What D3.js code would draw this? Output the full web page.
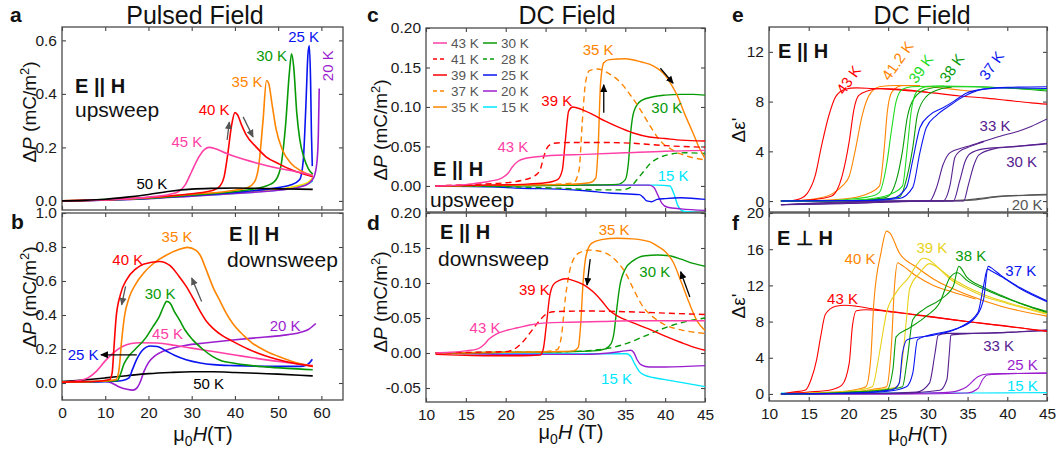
<!DOCTYPE html>
<html lang="en">
<head>
<meta charset="utf-8">
<script src="https://cdn.jsdelivr.net/npm/d3@7"></script>
<style>
body { margin: 0; background: #fff; }
svg { font-family: "Liberation Sans", Arial, sans-serif; }
</style>
</head>
<body>
<script>
// ---------- a: pulsed field, upsweep  [mu0H (T), dP (mC/m2)]
var a50 = [[0,0],[5,0.002],[10,0.006],[15,0.014],[20,0.024],[25,0.036],[30,0.044],[35,0.047],[40,0.048],[45,0.047],[50,0.045],[55,0.044],[58,0.043]];
var a45 = [[0,0],[10,0.004],[20,0.014],[25,0.025],[27,0.035],[28.5,0.06],[30,0.11],[31.5,0.16],[33,0.193],[34,0.2],[35.5,0.195],[38,0.178],[40,0.166],[45,0.142],[50,0.122],[55,0.107],[58,0.095]];
var a40 = [[0,0],[10,0.004],[20,0.013],[30,0.027],[35,0.04],[36.5,0.055],[37.5,0.09],[38.3,0.17],[39.2,0.28],[40,0.33],[40.6,0.322],[41.5,0.285],[42.5,0.25],[45,0.2],[47.2,0.165],[50,0.14],[52.5,0.12],[55,0.105],[58,0.09]];
var a35 = [[0,0],[20,0.012],[30,0.025],[40,0.04],[43,0.05],[44.5,0.07],[45.5,0.13],[46.5,0.3],[47.3,0.45],[47.8,0.44],[48.6,0.36],[49.5,0.27],[51,0.19],[53,0.14],[55,0.115],[58,0.095]];
var a30 = [[0,0],[20,0.01],[30,0.022],[40,0.035],[46,0.05],[49,0.07],[50.5,0.12],[51.7,0.28],[52.6,0.48],[53.1,0.55],[53.6,0.5],[54.3,0.33],[55,0.23],[56,0.16],[57,0.12],[58,0.1]];
var a25 = [[0,0],[20,0.009],[30,0.02],[40,0.032],[48,0.045],[53,0.06],[55,0.08],[55.8,0.15],[56.4,0.35],[56.9,0.55],[57.2,0.58],[57.5,0.45],[57.7,0.25],[57.9,0.13]];
var a20 = [[0,0],[20,0.008],[30,0.018],[40,0.028],[50,0.04],[55,0.052],[57,0.065],[58.3,0.09],[59,0.15],[59.3,0.25],[59.5,0.42]];
var a15 = [[0,0],[30,0.02],[45,0.036],[52,0.048],[55,0.058],[57,0.07],[58,0.085]];
var a10 = [[0,0],[30,0.019],[45,0.034],[52,0.045],[55,0.055],[57,0.065],[58,0.075]];

// ---------- b: pulsed field, downsweep
var b50 = [[0,0.008],[5,0.018],[10,0.03],[15,0.043],[20,0.055],[25,0.062],[30,0.066],[35,0.066],[40,0.062],[45,0.057],[50,0.052],[55,0.046],[58,0.042]];
var b45 = [[0,0.005],[4,0.015],[6,0.03],[8,0.07],[10,0.13],[12,0.18],[14,0.215],[16,0.232],[18,0.237],[22,0.235],[26,0.222],[30,0.205],[35,0.185],[40,0.165],[45,0.145],[50,0.127],[55,0.112],[58,0.103]];
var b40 = [[0,0.005],[5,0.008],[9,0.012],[11,0.02],[11.6,0.06],[12,0.2],[12.5,0.38],[13.5,0.52],[15,0.61],[17,0.67],[19,0.7],[22.5,0.715],[25,0.69],[27,0.63],[28.7,0.57],[30.5,0.49],[32,0.42],[33.5,0.36],[35,0.32],[37,0.28],[39.5,0.245],[43,0.2],[47,0.16],[52,0.125],[58,0.098]];
var b35 = [[0,0.005],[10,0.012],[12.5,0.02],[13.2,0.08],[13.8,0.25],[14.5,0.4],[15.5,0.5],[17,0.58],[19,0.65],[21,0.7],[24,0.75],[27,0.785],[29,0.798],[31,0.78],[32,0.75],[33.3,0.67],[35,0.56],[36.4,0.49],[38,0.41],[39.5,0.35],[42,0.28],[44,0.235],[47,0.19],[50,0.157],[54,0.12],[58,0.098]];
var b30 = [[0,0.005],[10,0.01],[12.8,0.015],[13.5,0.05],[14.3,0.11],[15.5,0.16],[17,0.2],[19.5,0.27],[21,0.33],[22.5,0.39],[23.5,0.45],[24.2,0.48],[25,0.47],[26,0.42],[27.2,0.37],[28.5,0.31],[30.2,0.255],[32.5,0.2],[34.8,0.157],[37,0.13],[39.5,0.118],[43,0.105],[47,0.095],[52,0.086],[58,0.078]];
var b25 = [[0,0.005],[10,0.008],[14,0.015],[15.5,0.03],[16.3,0.08],[17.3,0.14],[18.5,0.19],[20.5,0.218],[22,0.215],[24,0.19],[26,0.163],[28.7,0.137],[32,0.118],[35,0.108],[40,0.102],[47,0.098],[55,0.098],[56.5,0.105],[57.3,0.12],[57.9,0.14]];
var b20 = [[10,0.01],[11.5,0.0],[13,-0.02],[15,-0.037],[16.4,-0.042],[17.3,-0.03],[18,0.0],[19,0.07],[20,0.12],[21.5,0.16],[22.5,0.176],[25,0.2],[28.7,0.222],[33,0.235],[39.5,0.253],[45,0.266],[51,0.28],[55,0.297],[57,0.315],[58.7,0.35]];

// ---------- c: DC field, upsweep  [mu0H (T), dP (mC/m2)]
var c43 = [[11.2,0],[14,0.001],[16,0.003],[18,0.006],[19.5,0.01],[20.3,0.016],[20.9,0.025],[21.5,0.031],[22.5,0.035],[25,0.038],[30,0.04],[35,0.042],[40,0.044],[45,0.045]];
var c41 = [[11.2,0],[16,0.002],[20,0.004],[22,0.007],[23.5,0.012],[24.3,0.02],[24.8,0.038],[25.3,0.05],[26,0.054],[28,0.055],[32,0.055],[36,0.054],[40,0.051],[45,0.049]];
var c39 = [[11.2,0],[18,0.001],[22,0.002],[25,0.004],[26.5,0.008],[27.1,0.02],[27.5,0.06],[27.9,0.095],[28.4,0.1],[29.5,0.097],[31,0.09],[32.5,0.082],[34,0.075],[36,0.067],[38,0.062],[40,0.06],[42,0.058],[45,0.057]];
var c37 = [[11.2,0],[20,0.001],[26,0.002],[28.5,0.004],[29.2,0.02],[29.6,0.08],[30,0.13],[30.5,0.146],[31.5,0.148],[33,0.142],[34.5,0.13],[35.5,0.117],[36.8,0.098],[38,0.078],[39.3,0.058],[41,0.045],[43,0.037],[45,0.033]];
var c35 = [[11.2,0],[20,0.001],[28,0.002],[30.5,0.004],[31.3,0.01],[31.6,0.05],[31.9,0.13],[32.3,0.156],[33,0.16],[35,0.161],[37,0.157],[38.5,0.152],[40,0.14],[40.8,0.128],[41.5,0.115],[42.5,0.09],[43.5,0.067],[44.2,0.05],[45,0.035]];
var c30 = [[11.2,0],[20,0],[30,0.001],[34,0.002],[35,0.008],[35.4,0.03],[35.7,0.07],[36.1,0.095],[37,0.108],[38.5,0.113],[40,0.115],[42,0.116],[43.5,0.116],[45,0.115]];
var c28 = [[11.2,0],[20,-0.001],[27,-0.003],[32,-0.005],[34.5,-0.005],[35.6,-0.002],[36.3,0.006],[37.2,0.017],[38.1,0.028],[39.3,0.036],[40.6,0.04],[42.5,0.042],[45,0.041]];
var c25 = [[11.2,0],[18,-0.001],[22,-0.003],[26.7,-0.004],[30,-0.006],[33,-0.009],[36.8,-0.011],[37.3,-0.015],[37.7,-0.019],[38.3,-0.02],[39,-0.017],[40,-0.016],[42,-0.015],[45,-0.017]];
var c20 = [[11.2,0],[20,0.001],[30,0.001],[38,0.001],[38.6,-0.002],[39.1,-0.012],[39.6,-0.022],[40.3,-0.027],[42,-0.029],[45,-0.031]];
var c15 = [[11.2,0],[30,0.001],[39,0.001],[40.6,0.0],[41.1,-0.01],[41.6,-0.025],[42.3,-0.032],[45,-0.034]];

// ---------- d: DC field, downsweep
var d43 = [[11.2,0],[13,0.001],[15,0.003],[16.5,0.006],[17.3,0.012],[17.9,0.02],[18.8,0.027],[20,0.032],[21.5,0.036],[23,0.04],[25,0.043],[28,0.044],[32,0.045],[36,0.046],[40,0.046],[45,0.046]];
var d41 = [[11.2,0],[16,0.001],[20,0.002],[21,0.005],[22,0.014],[23,0.028],[24,0.043],[25,0.055],[26,0.059],[30,0.06],[35,0.059],[40,0.057],[45,0.055]];
var d39 = [[11.2,-0.002],[14,-0.003],[18,-0.004],[22,-0.004],[24.3,-0.003],[24.7,0.005],[25.1,0.04],[25.5,0.08],[26,0.098],[26.8,0.104],[27.6,0.106],[28.6,0.103],[30,0.096],[31,0.087],[32,0.075],[33,0.061],[34,0.053],[36,0.043],[38,0.034],[40,0.024],[42,0.015],[44,0.007],[45,0.004]];
var d37 = [[11.2,0],[20,0.001],[25,0.002],[26.5,0.005],[27,0.025],[27.5,0.08],[28.2,0.125],[29.2,0.143],[30.5,0.147],[32,0.145],[33,0.14],[34,0.13],[35,0.115],[36,0.092],[37,0.07],[38,0.056],[39,0.047],[40,0.04],[42,0.033],[45,0.028]];
var d35 = [[11.2,0],[20,0.001],[26,0.002],[28.5,0.003],[29.1,0.008],[29.4,0.04],[29.7,0.1],[30.1,0.14],[30.8,0.157],[32,0.162],[34,0.164],[36,0.163],[38,0.159],[39,0.153],[40,0.145],[41,0.13],[42,0.102],[43,0.072],[44,0.046],[45,0.032]];
var d30 = [[11.2,0],[20,0.001],[28,0.002],[31,0.003],[32.5,0.006],[33.2,0.013],[33.6,0.03],[33.9,0.06],[34.3,0.095],[35,0.12],[36,0.132],[37.5,0.139],[39,0.14],[40.5,0.139],[42,0.134],[43.5,0.128],[45,0.124]];
var d28 = [[11.2,0],[20,0.001],[28,0.002],[31,0.004],[33,0.007],[35,0.013],[37,0.022],[39.3,0.033],[41,0.04],[43,0.046],[45,0.05]];
var d20 = [[11.2,0],[16,-0.001],[20,-0.002],[25,-0.002],[30,-0.002],[33,0.0],[35,0.003],[35.7,0.004],[36.1,0.0],[36.5,-0.01],[37,-0.017],[38,-0.02],[40,-0.02],[45,-0.018]];
var d15 = [[11.2,0],[20,-0.001],[30,-0.001],[35.2,-0.001],[35.7,-0.005],[36.2,-0.016],[36.8,-0.027],[37.5,-0.032],[38.5,-0.035],[40,-0.038],[42.5,-0.043],[45,-0.048]];

// ---------- e: DC field, E || H  [mu0H (T), d eps'] two sweeps per temperature
var e43u = [[11.5,0],[13,0.05],[14,0.2],[14.8,0.6],[15.8,2.0],[16.6,4.4],[17.5,6.8],[18.4,8.4],[19.6,9.0],[21,9.1],[23,9.05],[25,9.0],[28,8.85],[30.6,8.7],[34,8.45],[37,8.3],[40,8.1],[43,7.9],[45,7.8]];
var e43d = [[11.5,0],[14,0.05],[16,0.15],[17.9,0.4],[19.2,2.0],[20.1,4.8],[20.7,7.4],[21.3,8.5],[22.6,8.9],[24,9.05],[26,9.0],[30,8.75]];
var e41u = [[11.5,0],[14,0.05],[16,0.2],[18,0.6],[19.2,1.2],[20.1,2.0],[20.9,4.2],[21.7,6.8],[22.6,8.5],[23.9,9.2],[26,9.3],[30,9.2],[33,9.0],[36,8.8]];
var e41d = [[11.5,0],[18,0.1],[21,0.3],[22.5,0.6],[23.9,1.2],[24.5,4.2],[24.9,7.2],[25.5,8.8],[26.8,9.3],[29,9.3]];
var e39u = [[11.5,0],[18,0.05],[21,0.2],[23,0.4],[23.9,0.7],[24.8,2.9],[25.4,5.6],[26.0,8.0],[26.8,9.0],[28,9.2],[32,9.25],[36,9.2],[40,9.1],[45,8.95]];
var e39d = [[11.5,0],[20,0.05],[24,0.3],[25.5,0.6],[26.8,1.2],[27.4,4.2],[27.9,7.2],[28.6,8.8],[29.8,9.2],[32,9.25]];
var e38u = [[11.5,0],[20,0.05],[23,0.15],[24.8,0.3],[26.0,1.6],[26.8,4.0],[27.4,6.7],[28.3,8.3],[29.8,9.0],[32,9.2],[36,9.2],[40,9.1],[45,8.85]];
var e38d = [[11.5,0],[21,0.05],[24,0.15],[26.4,0.3],[27.4,2.0],[28.1,4.3],[28.7,7.0],[29.8,8.4],[31.5,9.0],[33,9.15]];
var e37u = [[11.5,0],[22,0.05],[25.5,0.2],[27.3,1.1],[28.1,3.3],[29.0,5.9],[30.2,6.9],[31.9,7.5],[33.2,8.0],[34.9,8.7],[37.0,9.0],[40,9.15],[45,9.2]];
var e37d = [[11.5,0],[23,0.05],[26.4,0.2],[28.1,1.1],[29.0,3.9],[29.8,5.9],[31.1,6.9],[32.8,7.7],[34.5,8.4],[37.0,9.0],[40,9.1],[45,9.05]];
var e33u = [[11.5,-0.3],[20,-0.2],[28,0],[30.2,0.0],[31.1,1.1],[31.9,2.9],[32.8,3.9],[34.5,4.3],[37.0,4.8],[39,5.2],[41.3,5.6],[43,6.0],[45,6.6]];
var e33d = [[11.5,-0.3],[25,0],[31.9,0.0],[32.8,1.3],[33.4,3.5],[34.0,4.0],[35,4.3],[37,4.75]];
var e30u = [[11.5,-0.3],[25,-0.1],[30,0],[33.2,0.0],[34.0,1.6],[34.7,3.2],[35.3,3.8],[37.0,4.2],[41.3,4.4],[45,4.6]];
var e30d = [[11.5,-0.3],[30,0],[34.5,0.0],[35.1,1.3],[35.8,2.9],[36.4,3.7],[38.3,4.2],[41,4.4],[45,4.65]];
var e20u = [[11.5,0],[20,0],[30,0],[35,0.1],[37,0.25],[39.1,0.4],[42,0.45],[45,0.5]];
var e20d = [[11.5,0],[30,0],[35,0.05],[39,0.35],[45,0.55]];

// ---------- f: DC field, E perp H
var f43u = [[11.5,0],[13,0.2],[14.6,0.44],[15.3,1.6],[16.0,3.8],[16.5,6.3],[17.1,8.8],[18.4,9.7],[19.6,9.8],[21,9.7],[23,9.4],[26.4,9.0],[30,8.6],[34.9,8.0],[40,7.5],[45,6.9]];
var f43d = [[11.5,0],[15,0.2],[18,0.5],[19.2,1.0],[20.1,3.4],[20.5,7.5],[21.0,9.2],[22.2,9.3],[26,9.0],[30,8.55],[35,8.0],[40,7.45],[45,6.95]];
var f40u = [[11.5,0],[18,0.2],[21,0.5],[22.2,0.8],[22.8,3.8],[23.2,10.1],[24.1,15.6],[24.8,18.0],[25.2,17.8],[26.4,15.6],[28.6,14.0],[30.7,12.7],[34.9,11.0],[39.2,9.7],[45,8.6]];
var f40d = [[11.5,0],[20,0.2],[23,0.5],[24.8,0.8],[25.4,5.2],[25.8,11.9],[26.2,14.5],[26.6,14.3],[28.6,13.0],[30.7,12.0],[33,11.3],[36,10.5]];
var f39u = [[11.5,0],[18,0.15],[21,0.4],[23.0,0.8],[23.9,4.5],[24.8,9.0],[26.0,11.2],[27.7,13.0],[28.6,14.3],[29.4,15.0],[30,14.9],[31,14.2],[32.8,12.7],[35,11.6],[37.0,10.8],[40,10.0],[45,8.8]];
var f39d = [[11.5,0],[20,0.2],[24,0.5],[26.2,0.8],[26.8,3.8],[27.3,8.2],[27.7,11.6],[29.0,13.4],[30.2,14.4],[31,14.1],[32.8,12.9],[35,11.8],[37,11.0],[40,10.1],[45,8.9]];
var f38u = [[11.5,0],[18,0.1],[22,0.3],[24.8,0.4],[25.6,2.7],[26.0,6.3],[27.7,7.3],[29.8,8.6],[31.5,10.1],[32.8,12.9],[33.7,13.4],[35,12.5],[37,11.6],[39.2,10.8],[42,9.9],[45,9.0]];
var f38d = [[11.5,0],[20,0.15],[24,0.4],[26.8,0.8],[27.4,3.8],[28.1,8.2],[29.4,9.3],[31.5,10.4],[33.2,11.9],[33.9,14.1],[34.9,12.9],[37,11.8],[39.2,10.9],[42,9.9],[45,9.1]];
var f37u = [[11.5,0],[20,0.1],[24,0.3],[25.6,0.5],[26.4,1.2],[26.8,4.5],[27.4,6.0],[30.7,6.5],[34.1,7.4],[36.3,9.0],[37.0,11.9],[37.5,13.8],[38,13.6],[39.2,13.0],[41.7,11.6],[45,10.2]];
var f37d = [[11.5,0],[21,0.1],[25,0.3],[27.3,0.8],[28.1,2.3],[28.7,6.0],[30.2,6.5],[33.2,7.1],[35.7,8.2],[37.0,10.4],[37.6,14.1],[38.2,13.8],[39.2,13.1],[41.7,11.7],[45,10.3]];
var f33u = [[11.5,0],[25,0.1],[28.6,0.2],[30.2,1.2],[30.9,4.5],[31.3,6.5],[32.4,6.7],[35,6.7],[40,6.8],[45,7.1]];
var f33d = [[11.5,0],[26,0.05],[31.5,0.4],[32.4,1.6],[32.7,4.5],[32.9,6.5],[34,6.6],[40,6.8],[45,7.0]];
var f25u = [[11.5,0],[25,0],[30,0.1],[32.8,0.2],[34.9,0.8],[36.3,1.9],[37.5,2.2],[40,2.25],[45,2.3]];
var f25d = [[11.5,0],[28,0],[34.9,0.1],[36.3,0.6],[36.9,1.6],[37.5,2.1],[40,2.25],[45,2.3]];
var f15 = [[11.5,0.1],[20,0.1],[30,0.1],[40,0.12],[45,0.15]];

// tick values
var tPulsed = [0,10,20,30,40,50,60];
var tDC = [10,15,20,25,30,35,40,45];
var tA = [0,0.2,0.4,0.6];
var tB = [0,0.2,0.4,0.6,0.8,1.0];
var tC = [0,0.05,0.10,0.15,0.20];
var tD = [-0.05,0,0.05,0.10,0.15,0.20];
var tE = [0,4,8,12];
var tF = [0,4,8,12,16,20];

// colours
var PINK = "#ff3fa6", RED = "#ff0000", ORANGE = "#ff8400", GREEN = "#079a07", BLUE = "#0a14f0",
    PURPLE = "#9a1ecf", CYAN = "#00e6ff", YELLOW = "#f2e000", LGREEN = "#1fdc1f",
    INDIGO = "#56208f", GOLD = "#e8d21c";

var svg = d3.select("body").append("svg").attr("width", 1058).attr("height", 450);
var defs = svg.append("defs");

// arrow heads
["#555", "#000"].forEach(function(c, i) {
  defs.append("marker").attr("id", "arr" + i)
    .attr("viewBox", "0 0 10 10").attr("refX", 9).attr("refY", 5)
    .attr("markerWidth", 6).attr("markerHeight", 6).attr("orient", "auto")
    .append("path").attr("d", "M0,0.5 L10,5 L0,9.5 z").attr("fill", c);
});

// Builds one framed panel with inward ticks on all four sides
function panel(id, xd, xr, yd, yr, xt, yt, yfmt, showX) {
  var x = d3.scaleLinear().domain(xd).range(xr);
  var y = d3.scaleLinear().domain(yd).range(yr);
  var g = svg.append("g");
  defs.append("clipPath").attr("id", "clip" + id).append("rect")
    .attr("x", xr[0]).attr("y", yr[1]).attr("width", xr[1] - xr[0]).attr("height", yr[0] - yr[1]);

  var axes = [
    [d3.axisLeft(y).tickValues(yt).tickFormat(yfmt).tickPadding(5), "translate(" + xr[0] + ",0)"],
    [d3.axisRight(y).tickValues(yt).tickFormat(""), "translate(" + xr[1] + ",0)"],
    [d3.axisTop(x).tickValues(xt).tickFormat(""), "translate(0," + yr[1] + ")"],
    [d3.axisBottom(x).tickValues(xt).tickFormat(showX ? d3.format("d") : "").tickPadding(7), "translate(0," + yr[0] + ")"]
  ];
  axes.forEach(function(a) {
    var ax = g.append("g").attr("transform", a[1])
      .call(a[0].tickSizeInner(-4).tickSizeOuter(0));
    ax.attr("font-size", 15.5).attr("font-family", "Liberation Sans, Arial, sans-serif");
    ax.select(".domain").remove();
    ax.selectAll("line").attr("stroke", "#444").attr("stroke-width", 1.1);
    ax.selectAll("text").attr("fill", "#1a1a1a");
  });
  g.append("rect").attr("x", xr[0]).attr("y", yr[1])
    .attr("width", xr[1] - xr[0]).attr("height", yr[0] - yr[1])
    .attr("fill", "none").attr("stroke", "#4a4a4a").attr("stroke-width", 1.3);
  var plot = g.append("g").attr("clip-path", "url(#clip" + id + ")");
  return {x: x, y: y, g: g, plot: plot};
}

function curve(p, data, color, width, dash) {
  var line = d3.line()
    .x(function(d) { return p.x(d[0]); })
    .y(function(d) { return p.y(d[1]); })
    .curve(d3.curveMonotoneX);
  p.plot.append("path").datum(data)
    .attr("d", line)
    .attr("fill", "none")
    .attr("stroke", color)
    .attr("stroke-width", width)
    .attr("stroke-linejoin", "round")
    .attr("stroke-dasharray", dash ? "6,4" : null);
}

function label(p, txt, x, y, color, rot) {
  var px = p.x(x), py = p.y(y);
  p.g.append("text")
    .attr("transform", "translate(" + px + "," + py + ")" + (rot ? " rotate(" + rot + ")" : ""))
    .attr("text-anchor", "middle")
    .attr("dominant-baseline", "central")
    .attr("font-size", 15)
    .attr("fill", color)
    .text(txt);
}

function arrow(p, x1, y1, x2, y2, k) {
  p.g.append("line")
    .attr("x1", p.x(x1)).attr("y1", p.y(y1))
    .attr("x2", p.x(x2)).attr("y2", p.y(y2))
    .attr("stroke", k ? "#000" : "#555").attr("stroke-width", 1.3)
    .attr("marker-end", "url(#arr" + (k ? 1 : 0) + ")");
}

// free text in pixel space (titles, panel letters, sweep notes)
function note(x, y, txt, size, bold, anchor) {
  return svg.append("text").attr("x", x).attr("y", y)
    .attr("font-size", size)
    .attr("font-weight", bold ? "bold" : "normal")
    .attr("text-anchor", anchor || "start")
    .attr("fill", "#111")
    .text(txt);
}

function yLabel(x, y, kind) {
  var t = svg.append("text")
    .attr("transform", "translate(" + x + "," + y + ") rotate(-90)")
    .attr("text-anchor", "middle").attr("font-size", 19).attr("fill", "#111");
  if (kind === "P") {
    t.append("tspan").text("\u0394");
    t.append("tspan").attr("font-style", "italic").text("P");
    t.append("tspan").text(" (mC/m");
    t.append("tspan").attr("dy", -7).attr("font-size", 13).text("2");
    t.append("tspan").attr("dy", 7).text(")");
  } else {
    t.append("tspan").text("\u0394\u03b5'");
  }
}

function xLabel(x, y, space) {
  var t = svg.append("text").attr("x", x).attr("y", y)
    .attr("text-anchor", "middle").attr("font-size", 20).attr("fill", "#111");
  t.append("tspan").text("\u03bc");
  t.append("tspan").attr("dy", 5).attr("font-size", 14).text("0");
  t.append("tspan").attr("dy", -5).attr("font-style", "italic").text("H");
  t.append("tspan").text(space ? " (T)" : "(T)");
}

var f1 = function(d) { return d.toFixed(1); };
var f2 = function(d) { return d.toFixed(2); };
var f0 = function(d) { return String(d); };

// ===================== panel a =====================
var pa = panel("a", [0, 65], [62, 343], [-0.034, 0.65], [210, 27], tPulsed, tA, f1, false);
[[a10, CYAN], [a15, YELLOW], [a20, PURPLE], [a25, BLUE], [a30, GREEN], [a35, ORANGE], [a40, RED], [a45, PINK], [a50, "#000"]]
  .forEach(function(s) { curve(pa, s[0], s[1], 1.6); });
label(pa, "50 K", 20.8, 0.066, "#000");
label(pa, "45 K", 28.9, 0.222, PINK);
label(pa, "40 K", 35.2, 0.342, RED);
label(pa, "35 K", 42.8, 0.445, ORANGE);
label(pa, "30 K", 48.5, 0.543, GREEN);
label(pa, "25 K", 55.9, 0.616, BLUE);
label(pa, "20 K", 61.5, 0.505, PURPLE, -90);
arrow(pa, 38.2, 0.228, 38.7, 0.295);
arrow(pa, 41.9, 0.314, 44.2, 0.239);
note(75, 93, "E || H", 20, true);
note(75, 117, "upsweep", 21, false);

// ===================== panel b =====================
var pb = panel("b", [0, 65], [62, 343], [-0.1, 1.0], [400, 213], tPulsed, tB, f1, true);
[[b20, PURPLE], [b50, "#000"], [b25, BLUE], [b45, PINK], [b30, GREEN], [b35, ORANGE], [b40, RED]]
  .forEach(function(s) { curve(pb, s[0], s[1], 1.6); });
label(pb, "35 K", 26.6, 0.861, ORANGE);
label(pb, "40 K", 15.2, 0.727, RED);
label(pb, "30 K", 22.7, 0.527, GREEN);
label(pb, "45 K", 24.4, 0.292, PINK);
label(pb, "20 K", 51.6, 0.341, PURPLE);
label(pb, "25 K", 4.9, 0.166, BLUE);
label(pb, "50 K", 33.9, -0.002, "#000");
arrow(pb, 14.7, 0.568, 13.8, 0.46);
arrow(pb, 32.3, 0.48, 30.0, 0.618);
arrow(pb, 17.3, 0.166, 9.0, 0.166, true);
note(229, 241, "E || H", 20, true);
note(227, 267, "downsweep", 21, false);

// ===================== panel c =====================
var pc = panel("c", [10, 45], [426, 705], [-0.033, 0.2], [212, 28], tDC, tC, f2, false);
var cSeries = [
  ["43 K", c43, PINK, false], ["41 K", c41, RED, true], ["39 K", c39, RED, false],
  ["37 K", c37, ORANGE, true], ["35 K", c35, ORANGE, false], ["30 K", c30, GREEN, false],
  ["28 K", c28, GREEN, true], ["25 K", c25, BLUE, false], ["20 K", c20, PURPLE, false], ["15 K", c15, CYAN, false]
];
cSeries.slice().reverse().forEach(function(s) { curve(pc, s[1], s[2], 1.4, s[3]); });
// legend, two columns
cSeries.forEach(function(s, i) {
  var col = Math.floor(i / 5), row = i % 5;
  var lx = 433 + col * 50, ly = 43 + row * 16;
  svg.append("line").attr("x1", lx).attr("x2", lx + 14).attr("y1", ly).attr("y2", ly)
    .attr("stroke", s[2]).attr("stroke-width", 1.5).attr("stroke-dasharray", s[3] ? "4,3" : null);
  svg.append("text").attr("x", lx + 18).attr("y", ly).attr("dominant-baseline", "central")
    .attr("font-size", 13.5).attr("fill", "#555").text(s[0]);
});
label(pc, "35 K", 31.6, 0.173, ORANGE);
label(pc, "39 K", 26.4, 0.108, RED);
label(pc, "30 K", 40.2, 0.099, GREEN);
label(pc, "43 K", 20.9, 0.0497, PINK);
label(pc, "15 K", 41.0, 0.0138, CYAN);
arrow(pc, 32.3, 0.0927, 32.3, 0.128, true);
arrow(pc, 39.4, 0.149, 41.0, 0.13, true);
note(433, 176, "E || H", 20, true);
note(430, 207, "upsweep", 21, false);

// ===================== panel d =====================
var pd = panel("d", [10, 45], [426, 705], [-0.07, 0.2], [402, 213], tDC, tD, f2, true);
[[d15, CYAN], [d20, PURPLE], [d28, GREEN, true], [d30, GREEN], [d35, ORANGE], [d37, ORANGE, true],
 [d39, RED], [d41, RED, true], [d43, PINK]]
  .forEach(function(s) { curve(pd, s[0], s[1], 1.4, s[2]); });
label(pd, "35 K", 33.6, 0.176, ORANGE);
label(pd, "30 K", 38.7, 0.117, GREEN);
label(pd, "39 K", 23.6, 0.091, RED);
label(pd, "43 K", 17.4, 0.036, PINK);
label(pd, "15 K", 33.9, -0.037, CYAN);
arrow(pd, 30.6, 0.134, 30.2, 0.097, true);
arrow(pd, 43.1, 0.080, 41.95, 0.116, true);
note(440, 239, "E || H", 20, true);
note(438, 266, "downsweep", 21, false);

// ===================== panel e =====================
var pe = panel("e", [10, 45], [769, 1047], [-0.88, 14], [212, 27], tDC, tE, f0, false);
[[e20u, "#555"], [e20d, "#555"], [e30u, INDIGO], [e30d, INDIGO], [e33u, INDIGO], [e33d, INDIGO],
 [e41u, ORANGE], [e41d, ORANGE], [e43u, RED], [e43d, RED], [e38u, GREEN], [e38d, GREEN],
 [e39u, LGREEN], [e39d, LGREEN], [e37u, BLUE], [e37d, BLUE]]
  .forEach(function(s) { curve(pe, s[0], s[1], 1.1); });
label(pe, "43 K", 20.0, 9.76, RED, -55);
label(pe, "41.2 K", 26.15, 11.3, ORANGE, -55);
label(pe, "39 K", 29.1, 10.64, LGREEN, -55);
label(pe, "38 K", 33.0, 10.7, GREEN, -55);
label(pe, "37 K", 38.0, 10.9, BLUE, -55);
label(pe, "33 K", 38.45, 6.09, INDIGO);
label(pe, "30 K", 41.8, 3.16, INDIGO);
label(pe, "20 K", 42.5, -0.3, "#555");
note(778, 58, "E || H", 20, true);

// ===================== panel f =====================
var pf = panel("f", [10, 45], [769, 1047], [-0.78, 20], [401, 213], tDC, tF, f0, true);
[[f15, CYAN], [f25u, PURPLE], [f25d, PURPLE], [f33u, INDIGO], [f33d, INDIGO], [f43u, RED], [f43d, RED],
 [f40u, ORANGE], [f40d, ORANGE], [f39u, GOLD], [f39d, GOLD], [f38u, GREEN], [f38d, GREEN], [f37u, BLUE], [f37d, BLUE]]
  .forEach(function(s) { curve(pf, s[0], s[1], 1.1); });
label(pf, "40 K", 21.46, 15.0, ORANGE);
label(pf, "39 K", 30.5, 16.2, GOLD);
label(pf, "38 K", 35.4, 15.3, GREEN);
label(pf, "37 K", 41.7, 13.6, BLUE);
label(pf, "43 K", 19.25, 10.5, RED);
label(pf, "33 K", 38.9, 5.3, INDIGO);
label(pf, "25 K", 41.9, 3.2, PURPLE);
label(pf, "15 K", 41.9, 0.96, CYAN);
note(777, 245, "E \u22a5 H", 20, true);

// ===================== titles, letters, axis labels =====================
note(195, 24, "Pulsed Field", 25, false, "middle");
note(567, 24, "DC Field", 25, false, "middle");
note(922, 24, "DC Field", 25, false, "middle");
[["a", 10, 22], ["b", 11, 229], ["c", 367, 22], ["d", 367, 230], ["e", 732, 22], ["f", 732, 230]]
  .forEach(function(l) { note(l[1], l[2], l[0], 21, true); });
yLabel(36, 112, "P");
yLabel(36, 297, "P");
yLabel(387, 130, "P");
yLabel(387, 302, "P");
yLabel(745, 130, "e");
yLabel(745, 306, "e");
xLabel(203, 441, false);
xLabel(571, 439, true);
xLabel(918, 441, false);
</script>
</body>
</html>
